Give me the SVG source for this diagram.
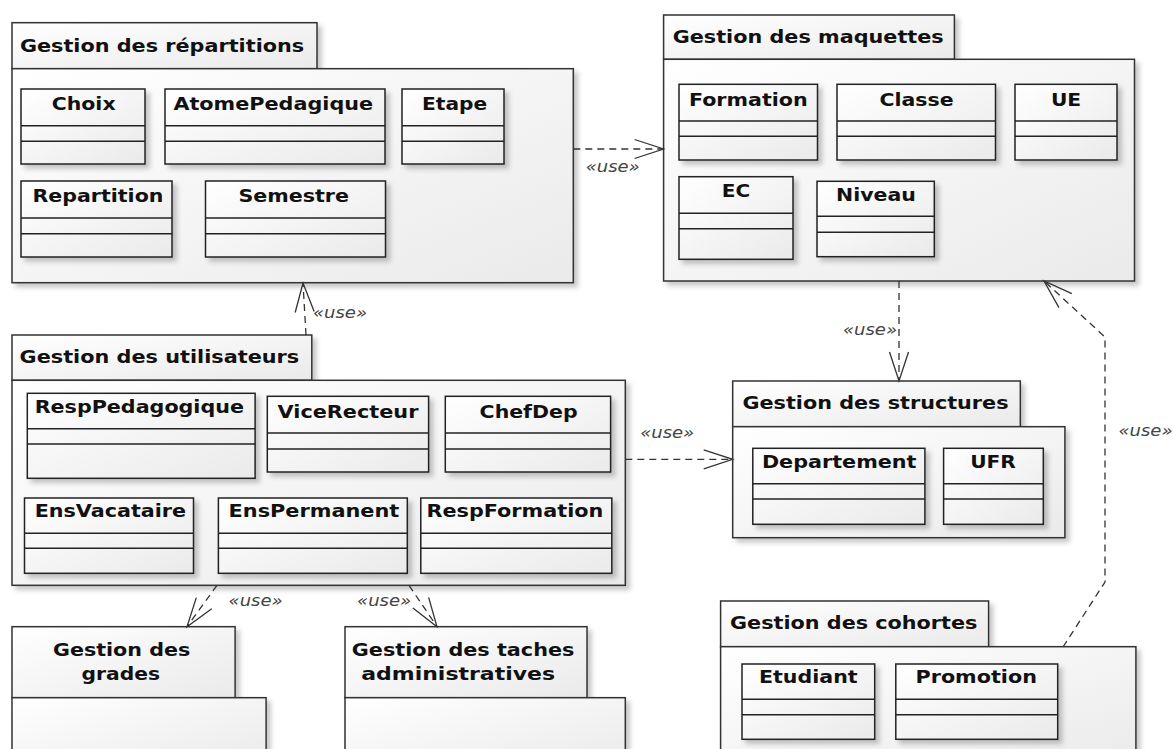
<svg xmlns="http://www.w3.org/2000/svg" width="1173" height="749" viewBox="0 0 1173 749">
<defs>
<linearGradient id="g" x1="0" y1="0" x2="1" y2="1"><stop offset="0" stop-color="#ffffff"/><stop offset="1" stop-color="#eaeaea"/></linearGradient>
<filter id="sh" x="-10%" y="-10%" width="130%" height="130%"><feDropShadow dx="4" dy="4" stdDeviation="2.5" flood-color="#000" flood-opacity="0.22"/></filter>
<marker id="arr" markerUnits="userSpaceOnUse" viewBox="-32 -12 34 24" refX="0" refY="0" markerWidth="34" markerHeight="24" orient="auto" overflow="visible">
<path d="M-29,-9.5 L0,0 L-29,9.5" fill="none" stroke="#333" stroke-width="1.3"/>
</marker>
<style>
.pk{fill:url(#g);stroke:#333;stroke-width:1.5;filter:url(#sh)}
.cl rect{fill:url(#g);stroke:#222;stroke-width:1.5;filter:url(#sh)}
.cl line{stroke:#222;stroke-width:1.5}
.t{font-family:"DejaVu Sans",sans-serif;font-weight:bold;font-size:18.5px;fill:#111}
.u{font-family:"DejaVu Sans",sans-serif;font-style:italic;font-size:16px;fill:#444}
.c{fill:none;stroke:#333;stroke-width:1.3;stroke-dasharray:7 5;marker-end:url(#arr)}
</style>
</defs>
<rect width="1173" height="749" fill="#fff"/>

<g id="pkg-repartitions">
<rect class="pk" x="12" y="22.7" width="305" height="46"/>
<rect class="pk" x="12" y="68.7" width="561.3" height="214"/>
<text class="t" x="19.9" y="51.7" textLength="284.3" lengthAdjust="spacingAndGlyphs">Gestion des répartitions</text>
</g>
<g id="cls-choix" class="cl"><rect x="21" y="89" width="124" height="75"/><line x1="21" y1="125.7" x2="145" y2="125.7"/><line x1="21" y1="141.3" x2="145" y2="141.3"/><text class="t" x="51.7" y="110" textLength="63.9" lengthAdjust="spacingAndGlyphs">Choix</text></g>
<g id="cls-atome" class="cl"><rect x="165" y="89" width="220" height="75"/><line x1="165" y1="125.7" x2="385" y2="125.7"/><line x1="165" y1="141.3" x2="385" y2="141.3"/><text class="t" x="173.4" y="110" textLength="199.7" lengthAdjust="spacingAndGlyphs">AtomePedagique</text></g>
<g id="cls-etape" class="cl"><rect x="402" y="89" width="102" height="75"/><line x1="402" y1="125.7" x2="504" y2="125.7"/><line x1="402" y1="141.3" x2="504" y2="141.3"/><text class="t" x="422.1" y="110" textLength="65.1" lengthAdjust="spacingAndGlyphs">Etape</text></g>
<g id="cls-repartition" class="cl"><rect x="21" y="181" width="151" height="76"/><line x1="21" y1="218" x2="172" y2="218"/><line x1="21" y1="233.7" x2="172" y2="233.7"/><text class="t" x="32.5" y="202.3" textLength="130.9" lengthAdjust="spacingAndGlyphs">Repartition</text></g>
<g id="cls-semestre" class="cl"><rect x="205.5" y="181" width="180" height="76"/><line x1="205.5" y1="218" x2="385.5" y2="218"/><line x1="205.5" y1="233.7" x2="385.5" y2="233.7"/><text class="t" x="238.4" y="202.3" textLength="110.6" lengthAdjust="spacingAndGlyphs">Semestre</text></g>

<g id="pkg-maquettes">
<rect class="pk" x="663.6" y="15" width="290.8" height="44.3"/>
<rect class="pk" x="663.6" y="59.3" width="470.9" height="221.7"/>
<text class="t" x="672.7" y="43.3" textLength="271" lengthAdjust="spacingAndGlyphs">Gestion des maquettes</text>
</g>
<g id="cls-formation" class="cl"><rect x="679" y="84.3" width="138.5" height="75.7"/><line x1="679" y1="121" x2="817.5" y2="121"/><line x1="679" y1="136.3" x2="817.5" y2="136.3"/><text class="t" x="688.9" y="106" textLength="118.8" lengthAdjust="spacingAndGlyphs">Formation</text></g>
<g id="cls-classe" class="cl"><rect x="837" y="84.3" width="158.5" height="75.7"/><line x1="837" y1="121" x2="995.5" y2="121"/><line x1="837" y1="136.3" x2="995.5" y2="136.3"/><text class="t" x="879.5" y="106" textLength="74.1" lengthAdjust="spacingAndGlyphs">Classe</text></g>
<g id="cls-ue" class="cl"><rect x="1015" y="84.3" width="102" height="75.7"/><line x1="1015" y1="121" x2="1117" y2="121"/><line x1="1015" y1="136.3" x2="1117" y2="136.3"/><text class="t" x="1050.9" y="106" textLength="30.3" lengthAdjust="spacingAndGlyphs">UE</text></g>
<g id="cls-ec" class="cl"><rect x="679" y="176.7" width="114" height="82.6"/><line x1="679" y1="213.3" x2="793" y2="213.3"/><line x1="679" y1="228.7" x2="793" y2="228.7"/><text class="t" x="721.8" y="197.3" textLength="28.4" lengthAdjust="spacingAndGlyphs">EC</text></g>
<g id="cls-niveau" class="cl"><rect x="817" y="181.3" width="117.3" height="75.4"/><line x1="817" y1="216.3" x2="934.3" y2="216.3"/><line x1="817" y1="232.3" x2="934.3" y2="232.3"/><text class="t" x="836" y="200.7" textLength="79.8" lengthAdjust="spacingAndGlyphs">Niveau</text></g>

<g id="pkg-utilisateurs">
<rect class="pk" x="12" y="335" width="299.8" height="45.3"/>
<rect class="pk" x="12" y="380.3" width="613.3" height="205"/>
<text class="t" x="19.6" y="362.7" textLength="279.6" lengthAdjust="spacingAndGlyphs">Gestion des utilisateurs</text>
</g>
<g id="cls-resppedagogique" class="cl"><rect x="27.3" y="393.3" width="227.8" height="85"/><line x1="27.3" y1="428.7" x2="255.1" y2="428.7"/><line x1="27.3" y1="444" x2="255.1" y2="444"/><text class="t" x="34.7" y="412.7" textLength="209.3" lengthAdjust="spacingAndGlyphs">RespPedagogique</text></g>
<g id="cls-vicerecteur" class="cl"><rect x="267.3" y="396.3" width="161.3" height="75.7"/><line x1="267.3" y1="433" x2="428.6" y2="433"/><line x1="267.3" y1="449" x2="428.6" y2="449"/><text class="t" x="277.6" y="418.3" textLength="140.8" lengthAdjust="spacingAndGlyphs">ViceRecteur</text></g>
<g id="cls-chefdep" class="cl"><rect x="445.3" y="396.3" width="165.3" height="75.7"/><line x1="445.3" y1="433" x2="610.6" y2="433"/><line x1="445.3" y1="449" x2="610.6" y2="449"/><text class="t" x="479.6" y="418.3" textLength="98" lengthAdjust="spacingAndGlyphs">ChefDep</text></g>
<g id="cls-ensvacataire" class="cl"><rect x="24.5" y="498" width="169" height="75.3"/><line x1="24.5" y1="533.3" x2="193.5" y2="533.3"/><line x1="24.5" y1="548.3" x2="193.5" y2="548.3"/><text class="t" x="34.7" y="516.7" textLength="151.4" lengthAdjust="spacingAndGlyphs">EnsVacataire</text></g>
<g id="cls-enspermanent" class="cl"><rect x="218.4" y="498" width="188.9" height="75.3"/><line x1="218.4" y1="533.3" x2="407.3" y2="533.3"/><line x1="218.4" y1="548.3" x2="407.3" y2="548.3"/><text class="t" x="228.6" y="516.7" textLength="170.6" lengthAdjust="spacingAndGlyphs">EnsPermanent</text></g>
<g id="cls-respformation" class="cl"><rect x="420.8" y="498" width="191" height="75.3"/><line x1="420.8" y1="533.3" x2="611.8" y2="533.3"/><line x1="420.8" y1="548.3" x2="611.8" y2="548.3"/><text class="t" x="426.5" y="516.7" textLength="176.8" lengthAdjust="spacingAndGlyphs">RespFormation</text></g>

<g id="pkg-structures">
<rect class="pk" x="732.7" y="381" width="287.6" height="45.7"/>
<rect class="pk" x="732.7" y="426.7" width="332.2" height="111"/>
<text class="t" x="742.5" y="409" textLength="266" lengthAdjust="spacingAndGlyphs">Gestion des structures</text>
</g>
<g id="cls-departement" class="cl"><rect x="752.8" y="448.3" width="172.1" height="76"/><line x1="752.8" y1="483.7" x2="924.9" y2="483.7"/><line x1="752.8" y1="499" x2="924.9" y2="499"/><text class="t" x="761.9" y="468.3" textLength="154.6" lengthAdjust="spacingAndGlyphs">Departement</text></g>
<g id="cls-ufr" class="cl"><rect x="943.6" y="448.3" width="99.7" height="76"/><line x1="943.6" y1="483.7" x2="1043.3" y2="483.7"/><line x1="943.6" y1="499" x2="1043.3" y2="499"/><text class="t" x="970.2" y="468.3" textLength="45.7" lengthAdjust="spacingAndGlyphs">UFR</text></g>

<g id="pkg-cohortes">
<rect class="pk" x="720.6" y="601" width="268" height="45.7"/>
<rect class="pk" x="720.6" y="646.7" width="415.3" height="120"/>
<text class="t" x="730.1" y="629.3" textLength="247.3" lengthAdjust="spacingAndGlyphs">Gestion des cohortes</text>
</g>
<g id="cls-etudiant" class="cl"><rect x="742" y="664" width="132.7" height="75.3"/><line x1="742" y1="699.3" x2="874.7" y2="699.3"/><line x1="742" y1="714.7" x2="874.7" y2="714.7"/><text class="t" x="759" y="683.3" textLength="98.6" lengthAdjust="spacingAndGlyphs">Etudiant</text></g>
<g id="cls-promotion" class="cl"><rect x="895.8" y="664" width="161.9" height="75.3"/><line x1="895.8" y1="699.3" x2="1057.7" y2="699.3"/><line x1="895.8" y1="714.7" x2="1057.7" y2="714.7"/><text class="t" x="915.5" y="683.3" textLength="121.4" lengthAdjust="spacingAndGlyphs">Promotion</text></g>

<g id="pkg-grades">
<rect class="pk" x="12" y="626.7" width="223.1" height="71"/>
<rect class="pk" x="12" y="697.7" width="254.1" height="70"/>
<text class="t" x="53" y="656" textLength="137.2" lengthAdjust="spacingAndGlyphs">Gestion des</text>
<text class="t" x="81.6" y="680" textLength="78.4" lengthAdjust="spacingAndGlyphs">grades</text>
</g>

<g id="pkg-taches">
<rect class="pk" x="345" y="626.7" width="242" height="71"/>
<rect class="pk" x="345" y="697.7" width="280.3" height="70"/>
<text class="t" x="351.8" y="656" textLength="222.5" lengthAdjust="spacingAndGlyphs">Gestion des taches</text>
<text class="t" x="361.2" y="680" textLength="193.9" lengthAdjust="spacingAndGlyphs">administratives</text>
</g>

<g id="connectors">
<path class="c" d="M573.3,149 L663.6,149"/>
<path class="c" d="M306,335 L303,283"/>
<path class="c" d="M625.3,459.3 L732.7,459.3"/>
<path class="c" d="M899,281 L899,381"/>
<path class="c" d="M1063,647 L1105,582 L1105,337 L1044,281"/>
<path class="c" d="M217,585.3 L187,626.7"/>
<path class="c" d="M409,585.3 L437,626.7"/>
<text class="u" x="585.7" y="171.7" textLength="54" lengthAdjust="spacingAndGlyphs">«use»</text>
<text class="u" x="313" y="318.3" textLength="54" lengthAdjust="spacingAndGlyphs">«use»</text>
<text class="u" x="640.2" y="438.3" textLength="54" lengthAdjust="spacingAndGlyphs">«use»</text>
<text class="u" x="843" y="335" textLength="54" lengthAdjust="spacingAndGlyphs">«use»</text>
<text class="u" x="1118.5" y="436" textLength="54" lengthAdjust="spacingAndGlyphs">«use»</text>
<text class="u" x="228.6" y="606" textLength="54" lengthAdjust="spacingAndGlyphs">«use»</text>
<text class="u" x="357.1" y="606" textLength="54" lengthAdjust="spacingAndGlyphs">«use»</text>
</g>
</svg>
